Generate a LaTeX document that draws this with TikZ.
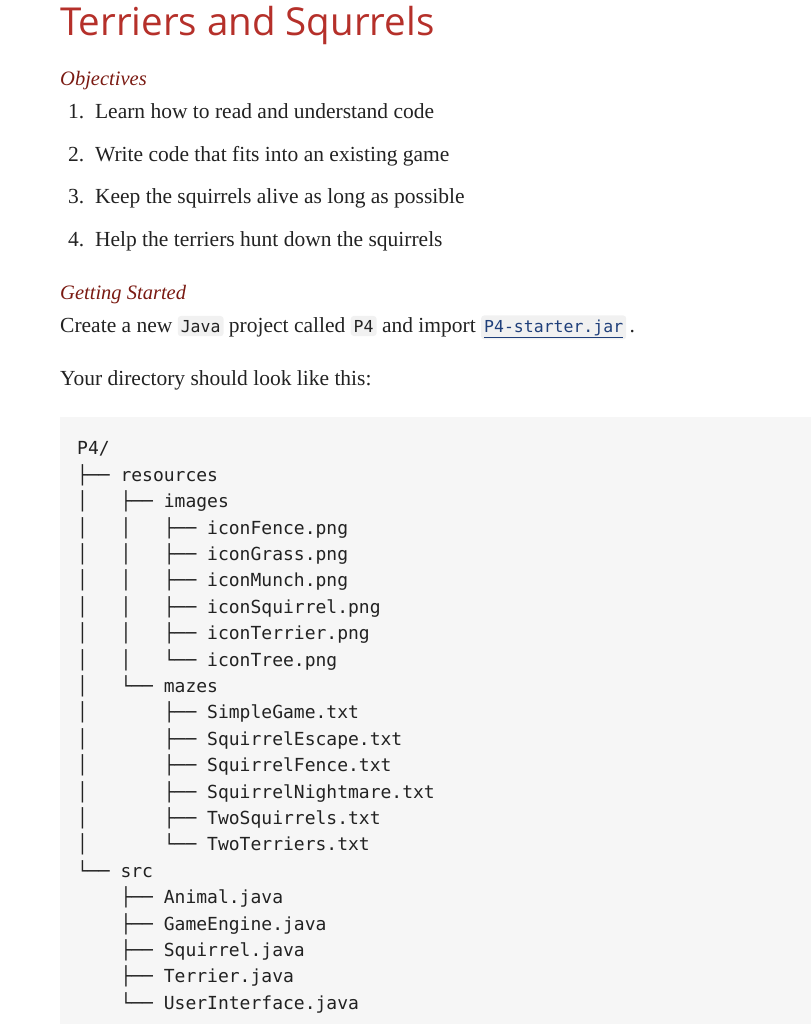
\documentclass[tikz,border=0pt]{standalone}
\usepackage{fontspec}
\setmainfont{Liberation Serif}
\newfontfamily\titlefont{Open Sans}
\newfontfamily\codefont{DejaVu Sans Mono}
\definecolor{titlered}{HTML}{B5302A}
\definecolor{headred}{HTML}{7A1A12}
\definecolor{codebg}{HTML}{F6F6F6}
\definecolor{inlinebg}{HTML}{F1F1F1}
\definecolor{linkblue}{HTML}{1F3F7A}
\definecolor{txt}{HTML}{222222}
\tikzset{
  body/.style={anchor=base west, inner sep=0pt, text=txt, font=\fontsize{21.5}{24}\selectfont},
  head/.style={anchor=base west, inner sep=0pt, text=headred, font=\fontsize{20.5}{24}\selectfont\itshape},
  code/.style={anchor=base west, inner sep=0pt, text=txt, font=\codefont\fontsize{18}{22}\selectfont},
  icode/.style={anchor=base west, inner xsep=3pt, inner ysep=4pt, fill=inlinebg, rounded corners=3pt, text=txt, font=\codefont\fontsize{16.5}{20}\selectfont},
}
\begin{document}
\begin{tikzpicture}[x=1pt,y=-1pt]
\useasboundingbox (0,0) rectangle (811,1024);
\node[anchor=base west, inner sep=0pt, text=titlered, font=\titlefont\fontsize{38.5}{46}\selectfont] (title) at (60,36) {Terriers and Squrrels};
\node[head] (obj) at (60,86) {Objectives};
\node[body] (o1) at (68,119) {1.\ \ Learn how to read and understand code};
\node[body] (o2) at (68,162) {2.\ \ Write code that fits into an existing game};
\node[body] (o3) at (68,204) {3.\ \ Keep the squirrels alive as long as possible};
\node[body] (o4) at (68,247) {4.\ \ Help the terriers hunt down the squirrels};
\node[head] (gs) at (60,299) {Getting Started};
\node[body] (c1) at (60,332) {Create a new};
\node[icode] (java) at ([xshift=5pt]c1.base east) {Java};
\node[body] (c2) at ([xshift=5pt]java.base east) {project called};
\node[icode] (p4) at ([xshift=5pt]c2.base east) {P4};
\node[body] (c3) at ([xshift=5pt]p4.base east) {and import};
\node[icode] (jar) at ([xshift=5pt]c3.base east) {\color{linkblue}P4-starter.jar};
\draw[linkblue, line width=1pt] ([xshift=3pt,yshift=2pt]jar.south west) -- ([xshift=-3pt,yshift=2pt]jar.south east);
\node[body] (dot) at ([xshift=3pt]jar.base east) {.};
\node[body] (dir) at (60,385) {Your directory should look like this:};
\fill[codebg] (60,417) rectangle (811,1024);
\def\L#1#2{\node[code] at (77,#1) {#2};}
\L{454}{P4/}
\L{481}{├── resources}
\L{507}{│\ \ \ ├── images}
\L{534}{│\ \ \ │\ \ \ ├── iconFence.png}
\L{560}{│\ \ \ │\ \ \ ├── iconGrass.png}
\L{586}{│\ \ \ │\ \ \ ├── iconMunch.png}
\L{613}{│\ \ \ │\ \ \ ├── iconSquirrel.png}
\L{639}{│\ \ \ │\ \ \ ├── iconTerrier.png}
\L{666}{│\ \ \ │\ \ \ └── iconTree.png}
\L{692}{│\ \ \ └── mazes}
\L{718}{│\ \ \ \ \ \ \ ├── SimpleGame.txt}
\L{745}{│\ \ \ \ \ \ \ ├── SquirrelEscape.txt}
\L{771}{│\ \ \ \ \ \ \ ├── SquirrelFence.txt}
\L{798}{│\ \ \ \ \ \ \ ├── SquirrelNightmare.txt}
\L{824}{│\ \ \ \ \ \ \ ├── TwoSquirrels.txt}
\L{850}{│\ \ \ \ \ \ \ └── TwoTerriers.txt}
\L{877}{└── src}
\L{903}{\ \ \ \ ├── Animal.java}
\L{930}{\ \ \ \ ├── GameEngine.java}
\L{956}{\ \ \ \ ├── Squirrel.java}
\L{982}{\ \ \ \ ├── Terrier.java}
\L{1009}{\ \ \ \ └── UserInterface.java}
\end{tikzpicture}
\end{document}
